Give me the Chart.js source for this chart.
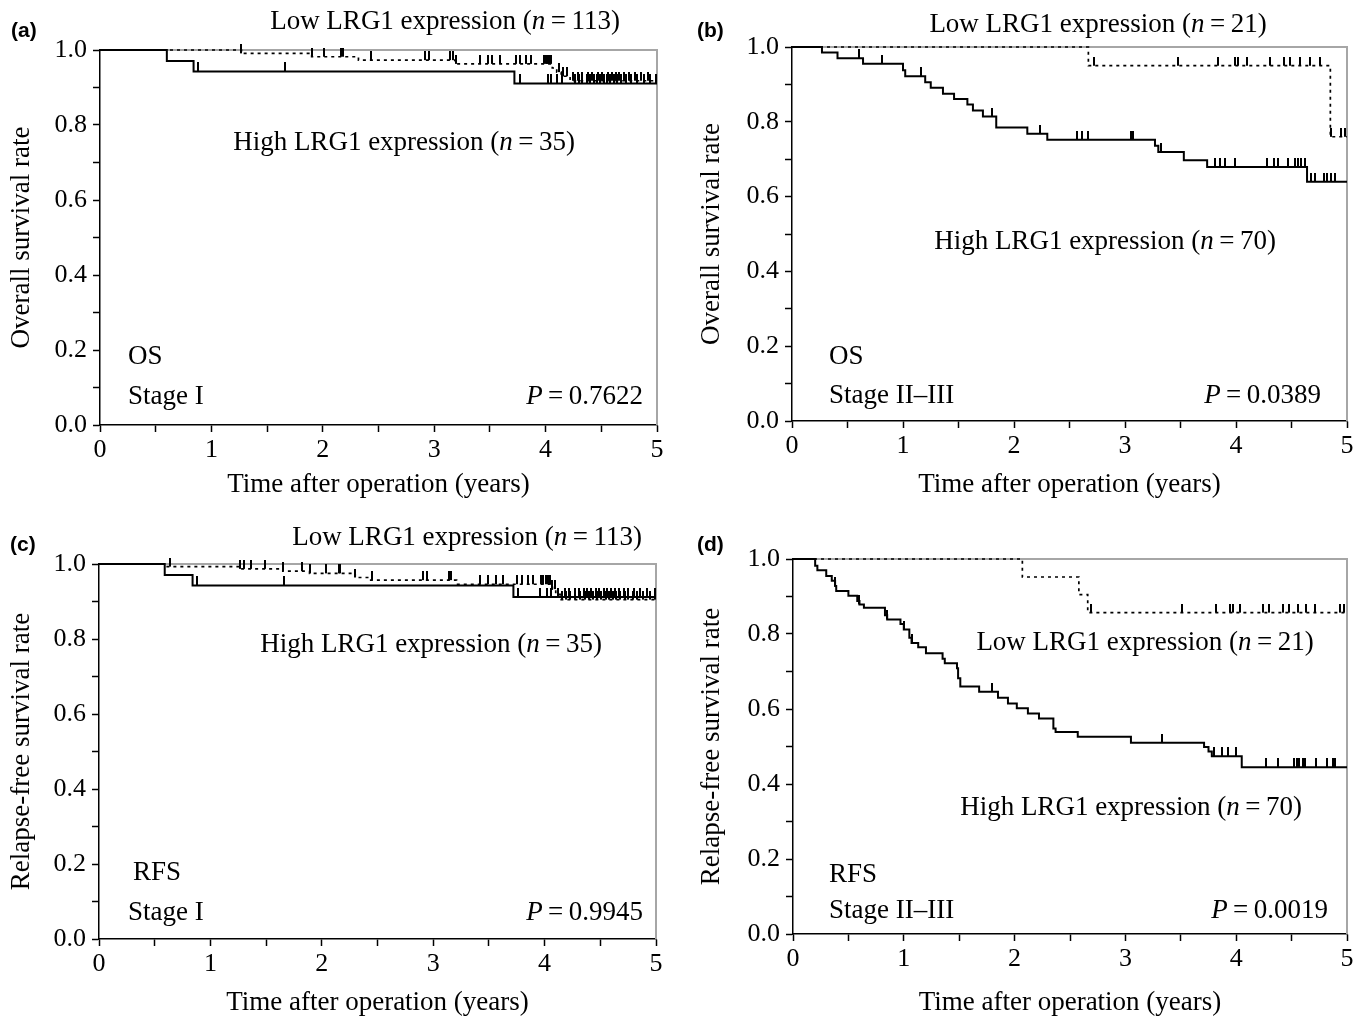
<!DOCTYPE html>
<html>
<head>
<meta charset="utf-8">
<title>LRG1 survival curves</title>
<script src="https://cdn.jsdelivr.net/npm/chart.js@4.4.0/dist/chart.umd.min.js"></script>
<style>
  body { margin: 0; background: #fff; }
  #wrap { position: relative; width: 1366px; height: 1017px; overflow: hidden; }
  canvas { position: absolute; }
</style>
</head>
<body>
<div id="wrap">
  <canvas id="pa" width="683" height="508" style="left:0;top:0"></canvas>
  <canvas id="pb" width="683" height="508" style="left:683px;top:0"></canvas>
  <canvas id="pc" width="683" height="517" style="left:0;top:508px"></canvas>
  <canvas id="pd" width="683" height="517" style="left:683px;top:508px"></canvas>
</div>
<script>
// ---- data (time in years, survival fraction) ----

// (a) OS, stage I
const aHighTimes = [0, 0.60, 0.84, 3.72];
const aHighSurv = [1, 0.971, 0.943, 0.911];
const aHighCensor = [0.88, 1.66, 3.77, 4.02, 4.05, 4.10, 4.15, 4.26, 4.30, 4.33, 4.37, 4.40, 4.43, 4.46, 4.49,
  4.52, 4.55, 4.58, 4.61, 4.64, 4.68, 4.72, 4.77, 4.82, 4.88, 4.94, 4.99];
const aLowTimes = [0, 1.27, 1.90, 2.32, 3.19, 4.06, 4.10, 4.14, 4.22];
const aLowSurv = [1, 0.991, 0.982, 0.973, 0.963, 0.952, 0.941, 0.930, 0.918];
const aLowCensor = [1.27, 1.90, 2.01, 2.16, 2.18, 2.43, 2.92, 2.95, 3.14, 3.17, 3.20, 3.41, 3.48, 3.52, 3.59,
  3.73, 3.77, 3.82, 3.87, 3.99, 4.00, 4.01, 4.02, 4.03, 4.04, 4.05, 4.12, 4.16, 4.19, 4.25, 4.29, 4.33,
  4.38, 4.42, 4.47, 4.51, 4.56, 4.60, 4.63, 4.66, 4.70, 4.75, 4.80, 4.86, 4.92];

// (b) OS, stage II-III
const bHighTimes = [0, 0.27, 0.41, 0.64, 1.00, 1.02, 1.20, 1.25, 1.36, 1.46, 1.58, 1.63, 1.72, 1.84, 2.12,
  2.30, 3.27, 3.30, 3.53, 3.74, 4.64];
const bHighSurv = [1, 0.985, 0.970, 0.955, 0.938, 0.922, 0.906, 0.891, 0.875, 0.861, 0.846, 0.830, 0.814,
  0.785, 0.768, 0.752, 0.736, 0.719, 0.697, 0.679, 0.640];
const bHighCensor = [0.60, 0.81, 1.16, 1.80, 2.23, 2.57, 2.61, 2.67, 3.05, 3.07, 3.32, 3.81, 3.86, 3.90, 3.99,
  4.28, 4.34, 4.38, 4.47, 4.53, 4.56, 4.59, 4.62, 4.68, 4.71, 4.79, 4.82, 4.86, 4.89];
const bLowTimes = [0, 2.67, 4.85];
const bLowSurv = [1, 0.950, 0.760];
const bLowCensor = [2.72, 3.48, 3.84, 3.99, 4.02, 4.10, 4.31, 4.43, 4.49, 4.58, 4.67, 4.76, 4.86, 4.95, 4.98];

// (c) RFS, stage I
const cHighTimes = [0, 0.59, 0.84, 3.72];
const cHighSurv = [1, 0.971, 0.943, 0.912];
const cHighCensor = [0.88, 1.66, 3.76, 3.96, 4.02, 4.06, 4.12, 4.18, 4.22, 4.27, 4.31, 4.35, 4.38, 4.42, 4.46,
  4.49, 4.53, 4.56, 4.60, 4.63, 4.67, 4.71, 4.75, 4.80, 4.86, 4.92, 4.99];
const cLowTimes = [0, 0.60, 1.27, 1.65, 1.89, 2.30, 2.43, 3.21, 4.07, 4.10, 4.14];
const cLowSurv = [1, 0.993, 0.987, 0.981, 0.975, 0.964, 0.957, 0.946, 0.933, 0.919, 0.905];
const cLowCensor = [0.64, 1.27, 1.30, 1.36, 1.49, 1.65, 1.82, 1.89, 2.04, 2.15, 2.16, 2.30, 2.45, 2.91, 2.94,
  3.14, 3.16, 3.42, 3.49, 3.56, 3.63, 3.75, 3.80, 3.85, 3.90, 3.97, 3.99, 4.01, 4.03, 4.05, 4.07, 4.09,
  4.16, 4.19, 4.23, 4.27, 4.32, 4.36, 4.40, 4.43, 4.47, 4.51, 4.55, 4.58, 4.61, 4.64, 4.68, 4.72, 4.75,
  4.79, 4.83, 4.88, 4.95, 4.99];

// (d) RFS, stage II-III
const dHighTimes = [0, 0.20, 0.22, 0.30, 0.35, 0.38, 0.39, 0.50, 0.58, 0.60, 0.64, 0.83, 0.85, 0.97, 1.00,
  1.05, 1.07, 1.13, 1.20, 1.35, 1.37, 1.48, 1.49, 1.51, 1.68, 1.85, 1.94, 2.02, 2.12, 2.22, 2.35, 2.37,
  2.57, 3.05, 3.71, 3.75, 3.78, 4.05];
const dHighSurv = [1, 0.982, 0.970, 0.955, 0.942, 0.928, 0.915, 0.902, 0.888, 0.879, 0.870, 0.850, 0.839,
  0.827, 0.812, 0.790, 0.776, 0.765, 0.749, 0.734, 0.722, 0.709, 0.682, 0.660, 0.646, 0.630, 0.615, 0.602,
  0.588, 0.575, 0.548, 0.539, 0.526, 0.510, 0.499, 0.487, 0.474, 0.445];
const dHighCensor = [0.38, 0.60, 0.85, 1.00, 1.07, 1.80, 3.33, 3.80, 3.87, 3.93, 4.00, 4.27, 4.38, 4.52, 4.55,
  4.57, 4.60, 4.62, 4.72, 4.82, 4.87, 4.89];
const dLowTimes = [0, 2.07, 2.58, 2.66];
const dLowSurv = [1, 0.952, 0.905, 0.857];
const dLowCensor = [2.69, 3.51, 3.82, 3.94, 3.97, 4.03, 4.24, 4.30, 4.42, 4.48, 4.56, 4.63, 4.71, 4.94, 4.97];

const xTicks = [0, 1, 2, 3, 4, 5];
const yTicks = [0, 0.2, 0.4, 0.6, 0.8, 1.0];

// ---- helpers ----
const SERIF = '"Liberation Serif", "Times New Roman", serif';
const SANS = '"Liberation Sans", Arial, sans-serif';
const TEXT_SIZE = 27;

function stepPoints(times, surv) {
  const pts = times.map((t, i) => ({ x: t, y: surv[i] }));
  pts.push({ x: 5, y: surv[surv.length - 1] });   // follow-up ends at 5 years
  return pts;
}

function survAt(times, surv, t) {
  let s = surv[0];
  for (let i = 0; i < times.length; i++) {
    if (times[i] <= t) s = surv[i];
  }
  return s;
}

// censor mark: short vertical tick rising from the curve
const tickImg = document.createElement('canvas');
tickImg.width = 2;
tickImg.height = 18;
const tctx = tickImg.getContext('2d');
tctx.fillStyle = '#000';
tctx.fillRect(0, 0, 2, 9);

function curveSets(times, surv, censor, dashed) {
  return [
    {
      data: stepPoints(times, surv),
      showLine: true,
      stepped: true,
      borderColor: '#000',
      borderWidth: dashed ? 1.7 : 2,
      borderDash: dashed ? [3, 4] : [],
      pointRadius: 0,
      fill: false,
      clip: false
    },
    {
      data: censor.map(t => ({ x: t, y: survAt(times, surv, t) })),
      showLine: false,
      pointStyle: tickImg,
      pointRadius: 5,
      clip: false
    }
  ];
}

function makePanel(id, p) {
  const canvas = document.getElementById(id);
  const w = canvas.width, h = canvas.height;
  const half = TEXT_SIZE * 1.2 / 2;

  const framePlugin = {
    id: 'frame',
    beforeDatasetsDraw(chart) {
      const { ctx, chartArea: a } = chart;
      ctx.save();
      ctx.strokeStyle = '#a6a6a6';
      ctx.lineWidth = 2;
      ctx.beginPath();
      ctx.moveTo(a.left, a.top);
      ctx.lineTo(a.right, a.top);
      ctx.lineTo(a.right, a.bottom);
      ctx.stroke();
      ctx.restore();
    }
  };

  const textPlugin = {
    id: 'panelText',
    afterDraw(chart) {
      const ctx = chart.ctx;
      p.texts.forEach(it => {
        ctx.save();
        ctx.fillStyle = '#000';
        ctx.textBaseline = 'middle';
        ctx.textAlign = 'left';
        const size = it.size || TEXT_SIZE;
        const fam = it.sans ? SANS : SERIF;
        const parts = it.parts.map(q => ({
          text: q[0],
          font: (q[1] ? 'italic ' : '') + (it.bold ? 'bold ' : '') + size + 'px ' + fam
        }));
        let total = 0;
        parts.forEach(q => { ctx.font = q.font; q.w = ctx.measureText(q.text).width; total += q.w; });
        let x = it.x;
        if (it.align === 'center') x -= total / 2;
        if (it.align === 'right') x -= total;
        parts.forEach(q => { ctx.font = q.font; ctx.fillText(q.text, x, it.y); x += q.w; });
        ctx.restore();
      });
    }
  };

  return new Chart(canvas, {
    type: 'scatter',
    data: { datasets: p.datasets },
    plugins: [framePlugin, textPlugin],
    options: {
      responsive: false,
      animation: false,
      events: [],
      layout: { padding: { left: 0, top: p.area.top, right: w - p.area.right, bottom: 0 } },
      plugins: { legend: { display: false }, tooltip: { enabled: false } },
      scales: {
        x: {
          type: 'linear',
          min: 0,
          max: 5,
          afterFit: s => { s.height = h - p.area.bottom; },
          grid: { drawOnChartArea: false, drawTicks: true, tickLength: 7, tickColor: '#000', tickWidth: 1.5 },
          border: { color: '#000', width: 1.5 },
          ticks: {
            stepSize: 0.5,
            autoSkip: false,
            maxRotation: 0,
            padding: 3,
            color: '#000',
            font: { family: SERIF, size: 26 },
            callback: v => xTicks.includes(v) ? String(v) : ''
          },
          title: {
            display: true,
            text: 'Time after operation (years)',
            color: '#000',
            font: { family: SERIF, size: TEXT_SIZE },
            padding: { top: 0, bottom: Math.max(0, p.xTitleOffset - half) }
          }
        },
        y: {
          type: 'linear',
          min: 0,
          max: 1,
          afterFit: s => { s.width = p.area.left; },
          grid: { drawOnChartArea: false, drawTicks: true, tickLength: 7, tickColor: '#000', tickWidth: 1.5 },
          border: { color: '#000', width: 1.5 },
          ticks: {
            stepSize: 0.1,
            autoSkip: false,
            padding: 6,
            color: '#000',
            font: { family: SERIF, size: 26 },
            callback: v => yTicks.some(t => Math.abs(t - v) < 1e-6) ? v.toFixed(1) : ''
          },
          title: {
            display: true,
            text: p.yTitle,
            color: '#000',
            font: { family: SERIF, size: TEXT_SIZE },
            padding: { top: Math.max(0, p.yTitleX - half), bottom: 0 }
          }
        }
      }
    }
  });
}

function lowHigh(label, n) {
  return [[label + ' LRG1 expression (', false], ['n', true], ['\u2009=\u2009' + n + ')', false]];
}

makePanel('pa', {
  area: { left: 100, top: 50, right: 657, bottom: 425 },
  yTitle: 'Overall survival rate', yTitleX: 22, xTitleOffset: 23,
  datasets: [...curveSets(aHighTimes, aHighSurv, aHighCensor, false),
             ...curveSets(aLowTimes, aLowSurv, aLowCensor, true)],
  texts: [
    { parts: [['(a)', false]], x: 11, y: 31, align: 'left', sans: true, bold: true, size: 21 },
    { parts: lowHigh('Low', 113), x: 445, y: 22, align: 'center' },
    { parts: lowHigh('High', 35), x: 404, y: 143, align: 'center' },
    { parts: [['OS', false]], x: 128, y: 357, align: 'left' },
    { parts: [['Stage I', false]], x: 128, y: 397, align: 'left' },
    { parts: [['P', true], ['\u2009=\u20090.7622', false]], x: 643, y: 397, align: 'right' }
  ]
});

makePanel('pb', {
  area: { left: 109, top: 47, right: 664, bottom: 421 },
  yTitle: 'Overall survival rate', yTitleX: 29, xTitleOffset: 23,
  datasets: [...curveSets(bHighTimes, bHighSurv, bHighCensor, false),
             ...curveSets(bLowTimes, bLowSurv, bLowCensor, true)],
  texts: [
    { parts: [['(b)', false]], x: 14, y: 31, align: 'left', sans: true, bold: true, size: 21 },
    { parts: lowHigh('Low', 21), x: 415, y: 25, align: 'center' },
    { parts: lowHigh('High', 70), x: 422, y: 242, align: 'center' },
    { parts: [['OS', false]], x: 146, y: 357, align: 'left' },
    { parts: [['Stage II\u2013III', false]], x: 146, y: 396, align: 'left' },
    { parts: [['P', true], ['\u2009=\u20090.0389', false]], x: 638, y: 396, align: 'right' }
  ]
});

makePanel('pc', {
  area: { left: 99, top: 56, right: 656, bottom: 431 },
  yTitle: 'Relapse-free survival rate', yTitleX: 22, xTitleOffset: 22,
  datasets: [...curveSets(cHighTimes, cHighSurv, cHighCensor, false),
             ...curveSets(cLowTimes, cLowSurv, cLowCensor, true)],
  texts: [
    { parts: [['(c)', false]], x: 10, y: 37, align: 'left', sans: true, bold: true, size: 21 },
    { parts: lowHigh('Low', 113), x: 467, y: 30, align: 'center' },
    { parts: lowHigh('High', 35), x: 431, y: 137, align: 'center' },
    { parts: [['RFS', false]], x: 133, y: 365, align: 'left' },
    { parts: [['Stage I', false]], x: 128, y: 405, align: 'left' },
    { parts: [['P', true], ['\u2009=\u20090.9945', false]], x: 643, y: 405, align: 'right' }
  ]
});

makePanel('pd', {
  area: { left: 110, top: 51, right: 664, bottom: 426 },
  yTitle: 'Relapse-free survival rate', yTitleX: 29, xTitleOffset: 22,
  datasets: [...curveSets(dHighTimes, dHighSurv, dHighCensor, false),
             ...curveSets(dLowTimes, dLowSurv, dLowCensor, true)],
  texts: [
    { parts: [['(d)', false]], x: 14, y: 37, align: 'left', sans: true, bold: true, size: 21 },
    { parts: lowHigh('Low', 21), x: 462, y: 135, align: 'center' },
    { parts: lowHigh('High', 70), x: 448, y: 300, align: 'center' },
    { parts: [['RFS', false]], x: 146, y: 367, align: 'left' },
    { parts: [['Stage II\u2013III', false]], x: 146, y: 403, align: 'left' },
    { parts: [['P', true], ['\u2009=\u20090.0019', false]], x: 645, y: 403, align: 'right' }
  ]
});
</script>
</body>
</html>
